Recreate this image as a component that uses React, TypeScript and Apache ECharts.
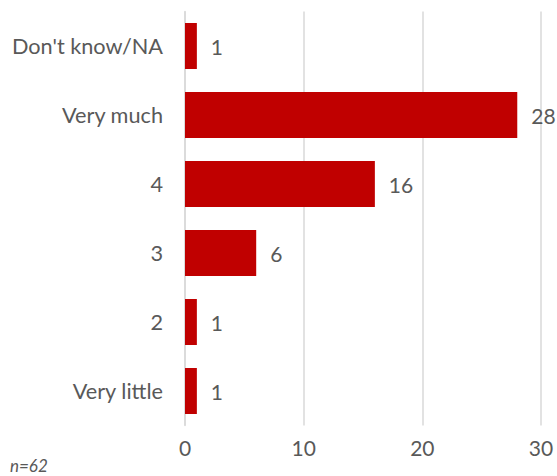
import React, { useEffect, useRef } from "react";
import * as echarts from "echarts";

const categories = ["Don't know/NA", "Very much", "4", "3", "2", "Very little"];
const values = [1, 28, 16, 6, 1, 1];
const sampleNote = "n=62";

export default function App() {
  const ref = useRef<HTMLDivElement>(null);
  useEffect(() => {
    if (!ref.current) return;
    const chart = echarts.init(ref.current, null, { renderer: "svg" });
    const font = "Lato, 'Open Sans', sans-serif";
    chart.setOption({
      animation: false,
      backgroundColor: "#ffffff",
      grid: { left: 185, right: 16, top: 11.5, bottom: 50.5, containLabel: false },
      xAxis: {
        type: "value",
        min: 0,
        max: 30,
        interval: 10,
        axisLine: { show: false },
        axisTick: { show: false },
        splitLine: { show: true, lineStyle: { color: "#d9d9d9", width: 1.5 } },
        axisLabel: { color: "#595959", fontSize: 21, fontFamily: font, margin: 11 },
      },
      yAxis: {
        type: "category",
        inverse: true,
        data: categories,
        axisLine: { show: true, lineStyle: { color: "#d9d9d9", width: 1.5 } },
        axisTick: { show: false },
        axisLabel: { color: "#595959", fontSize: 21.7, fontFamily: font, margin: 22 },
      },
      series: [
        {
          type: "bar",
          data: values,
          barWidth: 46,
          itemStyle: { color: "#C00000" },
          label: {
            show: true,
            position: "right",
            distance: 14,
            color: "#595959",
            fontSize: 21,
            fontFamily: font,
          },
        },
      ],
      graphic: [
        {
          type: "text",
          left: 10,
          top: 457,
          style: {
            text: sampleNote,
            fill: "#595959",
            font: "italic 17px " + font,
          },
        },
      ],
    });
    return () => chart.dispose();
  }, []);
  return (
    <div
      ref={ref}
      style={{ position: "absolute", left: 0, top: 0, width: 557, height: 476 }}
    />
  );
}
